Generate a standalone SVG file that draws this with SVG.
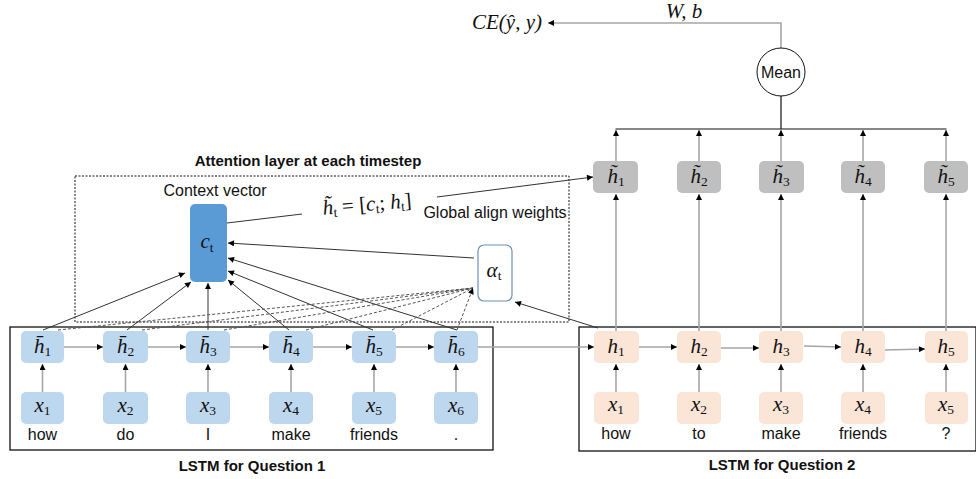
<svg xmlns="http://www.w3.org/2000/svg" width="976" height="479" viewBox="0 0 976 479">
  <style>
    .lbl { font-family: "Liberation Sans", Arial, sans-serif; font-size: 16px; fill: #111; }
    .ttl { font-family: "Liberation Sans", Arial, sans-serif; font-size: 15px; font-weight: bold; fill: #111; }
    .m { font-family: "Liberation Serif", "DejaVu Serif", serif; font-style: italic; font-size: 21px; fill: #111; }
    .sub { font-style: normal; font-size: 13.5px; }
    .hb { fill: #bdd7ee; }
    .hp { fill: #fbe5d6; }
    .hg { fill: #bfbfbf; }
    .gl { stroke: #a6a6a6; stroke-width: 1.6; fill: none; }
    .dk { stroke: #333; stroke-width: 1; fill: none; }
    .dsh { stroke: #555; stroke-width: 1; stroke-dasharray: 3 2; fill: none; }
    .box { stroke: #111; stroke-width: 1.3; fill: none; }
  </style>
  <defs>
    <marker id="ah" viewBox="0 0 10 10" refX="10" refY="5" markerWidth="7" markerHeight="6" markerUnits="userSpaceOnUse" orient="auto">
      <path d="M0,0 L10,5 L0,10 z" fill="#000"/>
    </marker>
  </defs>

  <!-- frames -->
  <rect class="box" x="10" y="327" width="483" height="123"/>
  <rect class="box" x="579" y="327" width="397" height="124"/>
  <rect x="75" y="176" width="494" height="146" fill="none" stroke="#111" stroke-width="1" stroke-dasharray="2 1.5"/>

  <text class="ttl" x="308" y="166" text-anchor="middle">Attention layer at each timestep</text>
  <text class="ttl" x="252" y="471" text-anchor="middle">LSTM for Question 1</text>
  <text class="ttl" x="782" y="470" text-anchor="middle">LSTM for Question 2</text>
  <text class="lbl" x="215" y="196" text-anchor="middle">Context vector</text>
  <text class="lbl" x="495" y="218" text-anchor="middle">Global align weights</text>

  <!-- connectors -->
  <g id="connectors">
    <!-- inputs to encoder states, question 1 -->
    <line class="gl" x1="42.5" y1="392" x2="42.5" y2="364" marker-end="url(#ah)"/>
    <line class="gl" x1="125.5" y1="392" x2="125.5" y2="364" marker-end="url(#ah)"/>
    <line class="gl" x1="208" y1="392" x2="208" y2="364" marker-end="url(#ah)"/>
    <line class="gl" x1="291" y1="392" x2="291" y2="364" marker-end="url(#ah)"/>
    <line class="gl" x1="374" y1="392" x2="374" y2="364" marker-end="url(#ah)"/>
    <line class="gl" x1="456" y1="392" x2="456" y2="364" marker-end="url(#ah)"/>
    <!-- recurrence, question 1 -->
    <line class="gl" x1="64" y1="347" x2="103" y2="347" marker-end="url(#ah)"/>
    <line class="gl" x1="148" y1="347" x2="186" y2="347" marker-end="url(#ah)"/>
    <line class="gl" x1="230" y1="347" x2="269" y2="347" marker-end="url(#ah)"/>
    <line class="gl" x1="313" y1="347" x2="352" y2="347" marker-end="url(#ah)"/>
    <line class="gl" x1="396" y1="347" x2="434" y2="347" marker-end="url(#ah)"/>
    <line class="gl" x1="478" y1="347" x2="594" y2="347" marker-end="url(#ah)"/>
    <!-- inputs to states, question 2 -->
    <line class="gl" x1="616" y1="392" x2="616" y2="364" marker-end="url(#ah)"/>
    <line class="gl" x1="699" y1="392" x2="699" y2="364" marker-end="url(#ah)"/>
    <line class="gl" x1="781" y1="392" x2="781" y2="364" marker-end="url(#ah)"/>
    <line class="gl" x1="863" y1="392" x2="863" y2="364" marker-end="url(#ah)"/>
    <line class="gl" x1="946" y1="392" x2="946" y2="364" marker-end="url(#ah)"/>
    <!-- recurrence, question 2 -->
    <line class="gl" x1="639" y1="347" x2="677" y2="347" marker-end="url(#ah)"/>
    <line class="gl" x1="721" y1="348" x2="759" y2="348" marker-end="url(#ah)"/>
    <line class="gl" x1="804" y1="346" x2="841" y2="347" marker-end="url(#ah)"/>
    <line class="gl" x1="885" y1="350" x2="925" y2="349" marker-end="url(#ah)"/>
    <!-- states to combined states -->
    <line class="gl" x1="616" y1="331" x2="616" y2="194" marker-end="url(#ah)"/>
    <line class="gl" x1="699" y1="331" x2="699" y2="194" marker-end="url(#ah)"/>
    <line class="gl" x1="781" y1="331" x2="781" y2="194" marker-end="url(#ah)"/>
    <line class="gl" x1="863" y1="331" x2="863" y2="194" marker-end="url(#ah)"/>
    <line class="gl" x1="946" y1="331" x2="946" y2="194" marker-end="url(#ah)"/>
    <!-- combined states to mean -->
    <line class="gl" x1="616" y1="161" x2="616" y2="130" marker-end="url(#ah)"/>
    <line class="gl" x1="699" y1="161" x2="699" y2="130" marker-end="url(#ah)"/>
    <line class="gl" x1="781" y1="161" x2="781" y2="130" marker-end="url(#ah)"/>
    <line class="gl" x1="863" y1="161" x2="863" y2="130" marker-end="url(#ah)"/>
    <line class="gl" x1="946" y1="161" x2="946" y2="130" marker-end="url(#ah)"/>
    <line x1="615.5" y1="129" x2="946.5" y2="129" stroke="#111" stroke-width="1.2"/>
    <line x1="781" y1="129" x2="781" y2="96" stroke="#111" stroke-width="1.2"/>
    <!-- mean to loss -->
    <polyline class="gl" points="781,48 781,23 548,23" marker-end="url(#ah)"/>

    <!-- encoder states to context vector -->
    <line class="dk" x1="43" y1="330" x2="185" y2="273" marker-end="url(#ah)"/>
    <line class="dk" x1="127" y1="330" x2="191" y2="282" marker-end="url(#ah)"/>
    <line class="dk" x1="208" y1="330" x2="208" y2="283" marker-end="url(#ah)"/>
    <line class="dk" x1="289" y1="330" x2="228" y2="280" marker-end="url(#ah)"/>
    <line class="dk" x1="373" y1="330" x2="228" y2="271" marker-end="url(#ah)"/>
    <line class="dk" x1="457" y1="330" x2="228" y2="258" marker-end="url(#ah)"/>
    <!-- align weights to context vector -->
    <line class="dk" x1="474" y1="258" x2="228" y2="243" marker-end="url(#ah)"/>
    <!-- encoder states to align weights -->
    <line class="dsh" x1="58" y1="330" x2="473" y2="288"/>
    <line class="dsh" x1="142" y1="330" x2="473" y2="288"/>
    <line class="dsh" x1="224" y1="330" x2="473" y2="288"/>
    <line class="dsh" x1="306" y1="330" x2="473" y2="288"/>
    <line class="dsh" x1="392" y1="330" x2="473" y2="288"/>
    <line class="dsh" x1="457" y1="330" x2="473" y2="288" marker-end="url(#ah)"/>
    <!-- decoder state to align weights -->
    <line class="dk" x1="598" y1="328" x2="515" y2="302" marker-end="url(#ah)"/>
    <!-- context vector to combined state -->
    <line class="dk" x1="227" y1="223" x2="302" y2="214"/>
    <line class="dk" x1="437" y1="197" x2="593" y2="177" marker-end="url(#ah)"/>
  </g>

  <!-- question 1 encoder states -->
  <g id="q1-states">
    <rect class="hb" x="21" y="331" width="43" height="32" rx="5"/>
    <rect class="hb" x="103" y="331" width="45" height="32" rx="5"/>
    <rect class="hb" x="186" y="331" width="44" height="32" rx="5"/>
    <rect class="hb" x="269" y="331" width="44" height="32" rx="5"/>
    <rect class="hb" x="352" y="331" width="44" height="32" rx="5"/>
    <rect class="hb" x="434" y="331" width="44" height="32" rx="5"/>
    <text class="m" x="42.5" y="353" text-anchor="middle">h̄<tspan class="sub" dy="3">1</tspan></text>
    <text class="m" x="125.5" y="353" text-anchor="middle">h̄<tspan class="sub" dy="3">2</tspan></text>
    <text class="m" x="208" y="353" text-anchor="middle">h̄<tspan class="sub" dy="3">3</tspan></text>
    <text class="m" x="291" y="353" text-anchor="middle">h̄<tspan class="sub" dy="3">4</tspan></text>
    <text class="m" x="374" y="353" text-anchor="middle">h̄<tspan class="sub" dy="3">5</tspan></text>
    <text class="m" x="456" y="353" text-anchor="middle">h̄<tspan class="sub" dy="3">6</tspan></text>
  </g>

  <!-- question 1 inputs -->
  <g id="q1-inputs">
    <rect class="hb" x="21" y="392" width="43" height="32" rx="5"/>
    <rect class="hb" x="103" y="392" width="45" height="32" rx="5"/>
    <rect class="hb" x="186" y="392" width="44" height="32" rx="5"/>
    <rect class="hb" x="269" y="392" width="44" height="32" rx="5"/>
    <rect class="hb" x="352" y="392" width="44" height="32" rx="5"/>
    <rect class="hb" x="434" y="392" width="44" height="32" rx="5"/>
    <text class="m" x="42.5" y="412" text-anchor="middle">x<tspan class="sub" dy="3">1</tspan></text>
    <text class="m" x="125.5" y="412" text-anchor="middle">x<tspan class="sub" dy="3">2</tspan></text>
    <text class="m" x="208" y="412" text-anchor="middle">x<tspan class="sub" dy="3">3</tspan></text>
    <text class="m" x="291" y="412" text-anchor="middle">x<tspan class="sub" dy="3">4</tspan></text>
    <text class="m" x="374" y="412" text-anchor="middle">x<tspan class="sub" dy="3">5</tspan></text>
    <text class="m" x="456" y="412" text-anchor="middle">x<tspan class="sub" dy="3">6</tspan></text>
    <text class="lbl" x="42.5" y="440" text-anchor="middle">how</text>
    <text class="lbl" x="125.5" y="440" text-anchor="middle">do</text>
    <text class="lbl" x="208" y="440" text-anchor="middle">I</text>
    <text class="lbl" x="291" y="440" text-anchor="middle">make</text>
    <text class="lbl" x="374" y="440" text-anchor="middle">friends</text>
    <text class="lbl" x="456" y="440" text-anchor="middle">.</text>
  </g>

  <!-- question 2 states -->
  <g id="q2-states">
    <rect class="hp" x="594" y="331" width="45" height="32" rx="5"/>
    <rect class="hp" x="677" y="331" width="44" height="32" rx="5"/>
    <rect class="hp" x="759" y="331" width="44" height="32" rx="5"/>
    <rect class="hp" x="841" y="331" width="44" height="32" rx="5"/>
    <rect class="hp" x="925" y="331" width="43" height="32" rx="5"/>
    <text class="m" x="616" y="353" text-anchor="middle">h<tspan class="sub" dy="3">1</tspan></text>
    <text class="m" x="699" y="353" text-anchor="middle">h<tspan class="sub" dy="3">2</tspan></text>
    <text class="m" x="781" y="353" text-anchor="middle">h<tspan class="sub" dy="3">3</tspan></text>
    <text class="m" x="863" y="353" text-anchor="middle">h<tspan class="sub" dy="3">4</tspan></text>
    <text class="m" x="946" y="353" text-anchor="middle">h<tspan class="sub" dy="3">5</tspan></text>
  </g>

  <!-- question 2 inputs -->
  <g id="q2-inputs">
    <rect class="hp" x="594" y="392" width="45" height="32" rx="5"/>
    <rect class="hp" x="677" y="392" width="44" height="32" rx="5"/>
    <rect class="hp" x="759" y="392" width="44" height="32" rx="5"/>
    <rect class="hp" x="841" y="392" width="44" height="32" rx="5"/>
    <rect class="hp" x="925" y="392" width="43" height="32" rx="5"/>
    <text class="m" x="616" y="411" text-anchor="middle">x<tspan class="sub" dy="3">1</tspan></text>
    <text class="m" x="699" y="411" text-anchor="middle">x<tspan class="sub" dy="3">2</tspan></text>
    <text class="m" x="781" y="411" text-anchor="middle">x<tspan class="sub" dy="3">3</tspan></text>
    <text class="m" x="863" y="411" text-anchor="middle">x<tspan class="sub" dy="3">4</tspan></text>
    <text class="m" x="946" y="411" text-anchor="middle">x<tspan class="sub" dy="3">5</tspan></text>
    <text class="lbl" x="616" y="439" text-anchor="middle">how</text>
    <text class="lbl" x="699" y="439" text-anchor="middle">to</text>
    <text class="lbl" x="781" y="439" text-anchor="middle">make</text>
    <text class="lbl" x="863" y="439" text-anchor="middle">friends</text>
    <text class="lbl" x="946" y="439" text-anchor="middle">?</text>
  </g>

  <!-- combined states -->
  <g id="combined-states">
    <rect class="hg" x="593" y="161" width="45" height="32" rx="5"/>
    <rect class="hg" x="677" y="161" width="44" height="32" rx="5"/>
    <rect class="hg" x="759" y="161" width="45" height="32" rx="5"/>
    <rect class="hg" x="841" y="161" width="44" height="32" rx="5"/>
    <rect class="hg" x="924" y="161" width="44" height="32" rx="5"/>
    <text class="m" x="616" y="183" text-anchor="middle">h̃<tspan class="sub" dy="3">1</tspan></text>
    <text class="m" x="699" y="183" text-anchor="middle">h̃<tspan class="sub" dy="3">2</tspan></text>
    <text class="m" x="781" y="183" text-anchor="middle">h̃<tspan class="sub" dy="3">3</tspan></text>
    <text class="m" x="863" y="183" text-anchor="middle">h̃<tspan class="sub" dy="3">4</tspan></text>
    <text class="m" x="946" y="183" text-anchor="middle">h̃<tspan class="sub" dy="3">5</tspan></text>
  </g>

  <!-- context vector -->
  <g id="context-vector">
    <rect x="190" y="204" width="37" height="78" rx="5" fill="#5b9bd5"/>
    <text class="m" x="207" y="248" text-anchor="middle" font-size="23">c<tspan class="sub" dy="4">t</tspan></text>
  </g>

  <!-- align weights -->
  <g id="align-weights">
    <rect x="478" y="245" width="34" height="56" rx="6" fill="#fff" stroke="#6d8fb8" stroke-width="1.2"/>
    <text class="m" x="494" y="277" text-anchor="middle">α<tspan class="sub" dy="3">t</tspan></text>
  </g>

  <!-- combination formula -->
  <g id="formula">
    <text class="m" x="367" y="211" text-anchor="middle" font-size="16" transform="rotate(-5 367 205)">h̃<tspan class="sub" dy="3" font-size="11">t</tspan><tspan dy="-3" font-style="normal"> = [</tspan>c<tspan class="sub" dy="3" font-size="11">t</tspan><tspan dy="-3" font-style="normal">; </tspan>h<tspan class="sub" dy="3" font-size="11">t</tspan><tspan dy="-3" font-style="normal">]</tspan></text>
  </g>

  <!-- mean -->
  <g id="mean">
    <circle cx="781" cy="72" r="24" fill="#fff" stroke="#111" stroke-width="1"/>
    <text class="lbl" x="781" y="78" text-anchor="middle" font-size="17">Mean</text>
  </g>

  <!-- loss and parameters -->
  <g id="loss">
    <text class="m" x="507" y="29" text-anchor="middle" font-size="18">CE(ŷ, y)</text>
    <text class="m" x="684" y="18" text-anchor="middle" font-size="18">W, b</text>
  </g>
</svg>
